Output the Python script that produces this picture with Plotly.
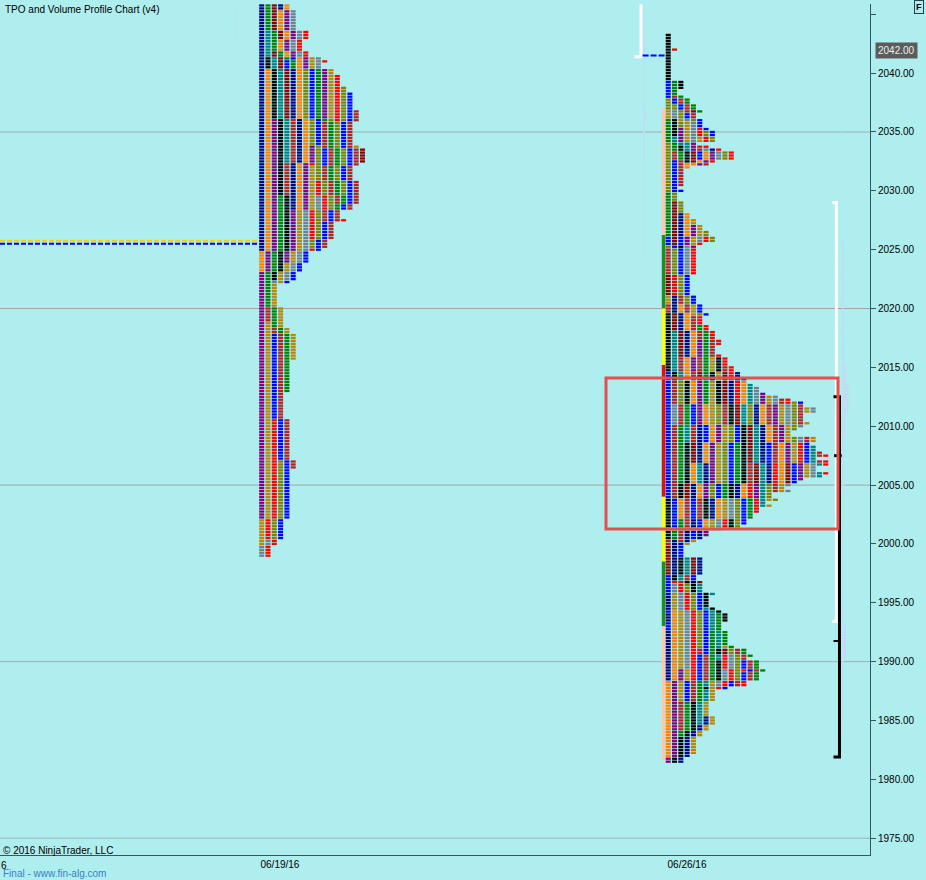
import plotly.graph_objects as go

# ---------- palette of TPO letters ----------
COLORS = {"N": "#000080", "o": "#FF8000", "m": "#800080", "k": "#000000", "t": "#008080",
          "r": "#8B0000", "f": "#B22222", "b": "#0000FF", "g": "#008000", "d": "#B8860B",
          "v": "#808000", "G": "#708090", "x": "#FF0000"}

# ---------- session 06/19/16 profile: (rows, letters per row), top to bottom ----------
P1_TOP = 2045.75
P1_ROWS = [
    (2, "NgrNo"), (7, "NgromG"), (3, "NtgromGx"), (4, "NtgomGx"), (2, "NtrgomGx"),
    (1, "NktrgbomdG"), (1, "NktrbgomdGx"), (2, "NktrbgomdG"), (2, "NoktrNovbgmd"),
    (4, "NoktrNovbgmdx"), (2, "NoktrNovbgmdxv"), (6, "NoktrNovbgmdxvb"),
    (3, "NoktrNovbgmdxvbf"),
    (1, "NomktfNovbgvxvbf"), (8, "NomktfNovbfgvbf"), (1, "NomktfNomvfgvbfd"),
    (5, "NomktfNomvbfgvbfr"), (1, "NomkfNomxvbfgvbf"), (5, "NomkfNomdvfgvbf"),
    (5, "NomkfNomdxvfgvbf"), (3, "NomgkNomdGxvfgbf"), (2, "NomgkNomdGxvgbf"),
    (3, "NomgkmdGxvfbf"), (1, "NomgkmdGxvfbfx"), (6, "NomgkmdGxvbf"), (3, "NomgkmdGvbf"),
    (1, "NomgkmdGxb"), (4, "omgkmdGb"), (3, "omgkdGb"), (3, "mgkdGb"), (1, "mgGdb"), (2, "mgd"),
    (6, "mgd"), (5, "mfgd"),
    (2, "mdgd"), (2, "mdfgd"), (9, "mdbfgd"), (11, "mdbfg"), (9, "mdbf"), (14, "mdxbf"),
    (3, "mdxvbf"), (17, "mdxvb"), (7, "dxvb"), (2, "dGx"), (4, "Gx"),
]

# ---------- session 06/26/16 profile ----------
P2_TOP = 2043.25
P2_HEAD = [
    (5, "k"), (1, "kx"), (10, "k"), (3, "bgk"), (2, "bg"), (1, "bfg"), (2, "vbfg"), (2, "vvbfg"),
    (1, "dGvfrg"), (1, "dGvbf"), (1, "dGvbf"),
    (1, "gkdGvb"), (2, "gkvdGb"), (1, "gkmdGxb"), (2, "gkmdGxvb"), (2, "gtmdGdxv"), (1, "vgttm"),
    (1, "vgktmfx"), (1, "vgktmfGNx"), (3, "vfgkrbomGvx"), (1, "vbfkromx"), (1, "vbfoomf"),
    (1, "vbfo"), (6, "vbf"), (1, "vb"), (1, "vbb"), (3, "gv"), (4, "grv"), (2, "grNo"),
    (2, "grNod"), (2, "grNomd"), (2, "grNomdv"), (2, "brbmdGxv"), (1, "brbmdx"), (1, "vbkGm"),
    (9, "fvbGx"), (7, "rxvb"), (3, "dNfvb"), (3, "fNofdb"), (1, "krNodvb"), (3, "krNofx"),
    (2, "krNofgx"), (3, "ktrNofgx"), (2, "ktrNomgfx"), (3, "ktrNomgf"), (1, "ktrNomgfx"),
    (3, "ktfomfgdkx"), (2, "ktfomfgdkfx"),
]
P2_MID_WIDTHS = [12, 12, 13, 13, 14, 15, 15, 16, 18, 20, 22, 22, 24, 24, 22, 22, 22, 23, 22, 21,
                 20, 20, 24, 24, 23, 24, 24, 25, 26, 24, 26, 26, 24, 24, 26, 25, 22, 21, 20, 19,
                 20, 17, 17, 18, 16, 17, 15, 15, 14, 14, 13, 13, 12, 9, 7, 7, 6]
P2_MID_LETTERS = [
    (3, "bktofrgkdrxNb"),
    (8, "bfvkomgdkrNxotGmdGfxvbGfdx"),
    (7, "bGfgbmodvfkrtvNofmdGvfdGxf"),
    (6, "bfgtfNbomdvbkrtNofmdvGfdGx"),
    (7, "bfgkrNomdvbgkrtNbfomdxbtfx"),
    (7, "bfgkotNmdvbgkfrtNxorbmdGtx"),
    (5, "bfkrNomvbgkNoxmtvfdGvx"),
    (7, "kbofbfkNodGvbgxtdvG"),
    (3, "kbgfNbodGxkvb"),
    (4, "kgfNbNmdG"),
]
P2_TAIL = [
    (1, "fNfNd"), (1, "fNNd"), (4, "rNb"), (6, "rNktrN"), (2, "bktfb"), (1, "bxfkkr"), (3, "bGxvkt"),
    (1, "bdGxvbkt"), (4, "NdGxvbk"), (1, "NdGxvbtk"), (1, "bodGxvbtk"), (3, "NodGxvbtgk"),
    (3, "bodGxvbtg"), (5, "NodGxvbgtg"),
    (1, "NodGxvbgtdg"), (2, "NodGxfbgkrvfg"), (1, "NodGxbfgtxGvfg"), (1, "NodGxbfgtxGvf"),
    (3, "NodGxbfgkxGvbfg"), (1, "NomdxbfgkGxvxbfg"), (3, "NomdxbfgkGxvbfg"), (2, "omdbfgtdGxbfx"),
    (1, "omdbfgkdxb"), (4, "omdbfgtd"), (5, "omfgktd"), (3, "omfgktNd"), (2, "omfgkNd"),
    (2, "omgkNd"), (6, "omkNd"), (1, "omkN"), (2, "mkN"),
]

# ---------- value-area bar left of the 06/26/16 profile: (top price, bottom price, colour) ----------
VA_SEGMENTS = [(2037.0, 2026.25, "#FFC8A8"), (2026.25, 2020.0, "#228B22"), (2020.0, 2015.2, "#FFFF00"),
               (2015.2, 2004.0, "#E01010"), (2004.0, 1998.5, "#FFFF00"), (1998.5, 1993.0, "#228B22"),
               (1993.0, 1981.6, "#FFC8A8")]

# ---------- pale volume profiles: (start col, top price, [(rows, bar length in cols)]) ----------
VOLUME = [
    (133.7, 2026.0, [(32, .2), (12, .3), (6, .6), (10, 1.0), (8, .5), (20, .3), (32, .15),
                     (12, .25), (12, .6), (20, .25), (4, .12)]),
    (102.1, 2045.75, [(12, .15), (7, .3), (17, .2), (3, .45), (14, .3), (32, .15)]),
    (133.3, 2035.0, [(9, .1)]),
    (37.5, 2045.75, [(13, .08)]),
]

# ---------- other chart values ----------
COL_PX = 6.3             # one TPO column, in pixels
N_COLS = 870 / COL_PX    # x range of the plot, in columns
SESSION_START = {"06/19/16": 41.14, "06/26/16": 105.67}
X_TICK_COLS = [44.44, 109.05]
X_TICK_LABELS = ["06/19/16", "06/26/16"]
Y_TICKS = [2045, 2040, 2035, 2030, 2025, 2020, 2015, 2010, 2005, 2000, 1995, 1990, 1985, 1980, 1975]
Y_LABELS = [""] + [f"{v:.2f}" for v in Y_TICKS[1:]]
GRID_LEVELS = [(2035, "#9fb0b0"), (2020, "#b09c9c"), (2005, "#9fa8a8"), (1990, "#9fb0b0"), (1975, "#9fb0b0")]
LAST_PRICE = 2042.0
Y_TOP, Y_BOTTOM = 2045.875, 1973.57
BG = "#AFEEEE"
TICK = 0.25
CELL = 0.8

segments = {c: ([], []) for c in COLORS}


def add_cell(col0, i, price, letter):
    xs, ys = segments[letter]
    xs += [col0 + i, col0 + i + CELL, None]
    ys += [price, price, None]


def draw(col0, top, rows, start=0):
    r = start
    for n, letters in rows:
        for _ in range(n):
            for i, c in enumerate(letters):
                add_cell(col0, i, top - TICK * r, c)
            r += 1
    return r


col1 = SESSION_START["06/19/16"]
col2 = SESSION_START["06/26/16"]
draw(col1, P1_TOP, P1_ROWS)
r = draw(col2, P2_TOP, P2_HEAD)
tmpl = [t for n, t in P2_MID_LETTERS for _ in range(n)]
for w, t in zip(P2_MID_WIDTHS, tmpl):
    for i, c in enumerate(t[:w]):
        add_cell(col2, i, P2_TOP - TICK * r, c)
    r += 1
draw(col2, P2_TOP, P2_TAIL, r)

fig = go.Figure()


def line(x, y, color, width, dash=None):
    fig.add_trace(go.Scatter(x=x, y=y, mode="lines", hoverinfo="skip", showlegend=False,
                             line=dict(color=color, width=width, dash=dash)))


# volume profiles
for col0, top, blocks in VOLUME:
    xs, ys = [], []
    rr = 0
    for n, ln in blocks:
        for _ in range(n):
            xs += [col0, col0 + ln, None]
            ys += [top - TICK * rr] * 2 + [None]
            rr += 1
    line(xs, ys, "#C4D8F8", 2.2)

# developing POC lines left of first profile
line([0, col1], [2025.75, 2025.75], "#FFD000", 2, "5px,2px")
line([0, col1], [2025.5, 2025.5], "#0000E0", 2, "5px,2px")

# value area bar
for top, bot, c in VA_SEGMENTS:
    line([col2 - 0.34, col2 - 0.34], [top, bot], c, 3.6)

# TPO cells
for c, (xs, ys) in segments.items():
    line(xs, ys, COLORS[c], 2.3)

# brackets
line([100.7, 101.75, 101.75], [2041.4, 2041.4, 2045.85], "#FFFFFF", 3)
line([102.0, col2], [2041.5, 2041.5], "#0000FF", 2, "6px,2px")
line([132.1, 132.75, 132.75, 132.1], [2029.0, 2029.0, 1993.4, 1993.4], "#FFFFFF", 3)
line([132.3, 133.25, 133.25, 132.3], [2012.5, 2012.5, 1981.9, 1981.9], "#000000", 3)
line([132.3, 133.25], [1991.75, 1991.75], "#000000", 2)
line([132.4, 133.6], [2007.5, 2007.5], "#000000", 3)

# last price marker tip
fig.add_trace(go.Scatter(x=[871.5 / COL_PX], y=[LAST_PRICE], mode="markers", cliponaxis=False,
                         hoverinfo="skip", showlegend=False,
                         marker=dict(symbol="triangle-left", size=9, color="#5c5c5c")))

for lv, c in GRID_LEVELS:
    fig.add_shape(type="line", xref="x", yref="y", x0=0, x1=N_COLS, y0=lv, y1=lv, layer="below",
                  line=dict(color=c, width=1))
fig.add_shape(type="rect", xref="x", yref="y", x0=606 / COL_PX, x1=838 / COL_PX, y0=2014.1, y1=2001.27,
              line=dict(color="#E25050", width=3), fillcolor="rgba(0,0,0,0)")


def note(text, px, py, size=10, color="#000000", **kw):
    fig.add_annotation(text=text, xref="paper", yref="paper", x=px / 870, y=(855 - py) / 851,
                       xanchor=kw.pop("xanchor", "left"), yanchor="middle", showarrow=False,
                       font=dict(size=size, color=color, family=kw.pop("family", "Liberation Sans")),
                       **kw)


note("TPO and Volume Profile Chart (v4)", 3, 10)
note("© 2016 NinjaTrader, LLC", 1, 850)
note("6", -1, 865)
note("Final - www.fin-alg.com", 1, 874, size=10, color="#3A80C8")
note("2042.00", 875, 50, color="#E8F0F0", bgcolor="#5c5c5c", borderpad=2)
note("<b>F</b>", 914, 7, size=9, bordercolor="#20404a", borderwidth=1, borderpad=1, bgcolor=BG)

fig.update_layout(
    width=926, height=880, autosize=False, paper_bgcolor=BG, plot_bgcolor=BG,
    margin=dict(l=0, r=56, t=4, b=25), showlegend=False,
    font=dict(family="Liberation Sans", size=10, color="#000000"),
    xaxis=dict(range=[0, N_COLS], showgrid=False, zeroline=False, tickmode="array",
               tickvals=X_TICK_COLS, ticktext=X_TICK_LABELS, ticks="", showline=True,
               linecolor="#33585e", linewidth=1, fixedrange=True),
    yaxis=dict(range=[Y_BOTTOM, Y_TOP], side="right", showgrid=False, zeroline=False, tickmode="array",
               tickvals=Y_TICKS, ticktext=Y_LABELS, ticks="outside", ticklen=5, tickcolor="#33585e",
               showline=True, linecolor="#33585e", linewidth=1, fixedrange=True),
)
fig.write_html("out.html", config=dict(displayModeBar=False),
               post_script="document.documentElement.style.background='#AFEEEE';"
                           "document.body.style.margin='0';document.body.style.overflow='hidden';")
